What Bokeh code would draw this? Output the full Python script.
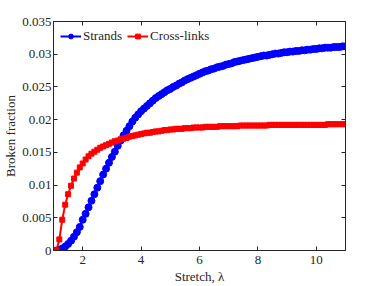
from bokeh.plotting import figure
from bokeh.models import (Range1d, FixedTicker, LinearAxis, Legend, LegendItem,
                          CustomLabelingPolicy)
from bokeh.embed import file_html
from bokeh.resources import INLINE

# ---- data ----
stretch = [round(1.0 + 0.1 * i, 1) for i in range(101)]

strands = [
    0.0, 0.0, 0.0001, 0.0003, 0.0006, 0.0010, 0.0015, 0.0021, 0.0028, 0.0036,
    0.0047, 0.0056, 0.0066, 0.0076, 0.0086, 0.0096, 0.0106, 0.0116, 0.0125, 0.0134,
    0.0143, 0.0151, 0.0160, 0.0168, 0.0176, 0.0183, 0.0190, 0.0197, 0.0203, 0.0208,
    0.0213, 0.0217, 0.0221, 0.0225, 0.0229, 0.0233, 0.0236, 0.0239, 0.0242, 0.0245,
    0.0247, 0.0250, 0.0252, 0.0255, 0.0257, 0.0260, 0.0262, 0.0264, 0.0266, 0.0268,
    0.0270, 0.0272, 0.0274, 0.0275, 0.0277, 0.0278, 0.0280, 0.0281, 0.0282, 0.0284,
    0.0285, 0.0286, 0.0288, 0.0289, 0.0290, 0.0291, 0.0292, 0.0293, 0.0294, 0.0295,
    0.0296, 0.0297, 0.0298, 0.0298, 0.0299, 0.0300, 0.0301, 0.0301, 0.0302, 0.0303,
    0.0303, 0.0304, 0.0304, 0.0305, 0.0305, 0.0306, 0.0306, 0.0307, 0.0307, 0.0308,
    0.0308, 0.0309, 0.0309, 0.0310, 0.0310, 0.0310, 0.0311, 0.0311, 0.0311, 0.0312,
    0.0312,
]

cross_links = [
    0.0, 0.0, 0.0017, 0.0047, 0.0070, 0.0086, 0.0099, 0.0110, 0.0119, 0.0127,
    0.0133, 0.0139, 0.0144, 0.0148, 0.0151, 0.0154, 0.0157, 0.0159, 0.0161, 0.0163,
    0.0165, 0.0167, 0.0168, 0.0170, 0.0171, 0.0172, 0.0174, 0.0175, 0.0176, 0.0177,
    0.0178, 0.0179, 0.0180, 0.0180, 0.0181, 0.0182, 0.0182, 0.0183, 0.0184, 0.0184,
    0.0185, 0.0185, 0.0186, 0.0186, 0.0186, 0.0187, 0.0187, 0.0187, 0.0188, 0.0188,
    0.0188, 0.0188, 0.0189, 0.0189, 0.0189, 0.0189, 0.0189, 0.0190, 0.0190, 0.0190,
    0.0190, 0.0190, 0.0190, 0.0190, 0.0191, 0.0191, 0.0191, 0.0191, 0.0191, 0.0191,
    0.0191, 0.0191, 0.0191, 0.0191, 0.0192, 0.0192, 0.0192, 0.0192, 0.0192, 0.0192,
    0.0192, 0.0192, 0.0192, 0.0192, 0.0192, 0.0192, 0.0192, 0.0192, 0.0192, 0.0192,
    0.0192, 0.0192, 0.0192, 0.0192, 0.0193, 0.0193, 0.0193, 0.0193, 0.0193, 0.0193,
    0.0193,
]

x_ticks = [2, 4, 6, 8, 10]
y_ticks = [0, 0.005, 0.01, 0.015, 0.02, 0.025, 0.03, 0.035]
y_tick_labels = ["0", "0.005", "0.01", "0.015", "0.02", "0.025", "0.03", "0.035"]

FONT = "Liberation Serif"
FS = "13px"
INK = "#262626"

p = figure(width=378, height=286, output_backend="svg", toolbar_location=None,
           x_range=Range1d(1, 11), y_range=Range1d(0, 0.035),
           min_border_left=50, min_border_right=33, min_border_top=21,
           min_border_bottom=36)
p.background_fill_color = "white"
p.border_fill_color = "white"
p.outline_line_color = INK
p.outline_line_width = 1
p.xgrid.visible = False
p.ygrid.visible = False

no_labels = CustomLabelingPolicy(code="""
    const all = [...indices]
    for (const i of all) indices.unset(i)
    return indices
""")

def style_axis(ax, labels=True):
    ax.axis_line_color = INK
    ax.axis_line_width = 1
    ax.major_tick_line_color = INK
    ax.major_tick_in = 4
    ax.major_tick_out = 0
    ax.minor_tick_line_color = None
    ax.major_label_text_font = FONT
    ax.major_label_text_font_size = FS
    ax.major_label_text_color = INK
    ax.axis_label_text_font = FONT
    ax.axis_label_text_font_style = "normal"
    ax.axis_label_text_font_size = FS
    ax.axis_label_text_color = INK
    ax.axis_label_standoff = 1
    ax.major_label_standoff = 2
    if not labels:
        ax.major_label_policy = no_labels
        ax.major_label_standoff = 0

xa = p.xaxis[0]
ya = p.yaxis[0]
xa.ticker = FixedTicker(ticks=x_ticks)
ya.ticker = FixedTicker(ticks=y_ticks)
ya.major_label_overrides = {t: s for t, s in zip(y_ticks, y_tick_labels)}
xa.axis_label = "Stretch, λ"
ya.axis_label = "Broken fraction"
style_axis(xa)
style_axis(ya)
xa.major_label_standoff = 5
xa.axis_label_standoff = 2

top = LinearAxis(ticker=FixedTicker(ticks=x_ticks))
right = LinearAxis(ticker=FixedTicker(ticks=y_ticks))
style_axis(top, labels=False)
style_axis(right, labels=False)
p.add_layout(top, "above")
p.add_layout(right, "right")

BLUE = "#0000ff"
RED = "#ff0000"

bl = p.line(stretch, strands, line_color=BLUE, line_width=2)
bs = p.scatter(stretch, strands, marker="circle", size=7,
               fill_color=BLUE, line_color=BLUE)
rl = p.line(stretch, cross_links, line_color=RED, line_width=2)
rs = p.scatter(stretch, cross_links, marker="square", size=5,
               fill_color=RED, line_color=RED)

legend = Legend(items=[LegendItem(label="Strands", renderers=[bl, bs]),
                       LegendItem(label="Cross-links", renderers=[rl, rs])],
                location="top_left", orientation="horizontal")
legend.label_text_font = FONT
legend.label_text_font_size = FS
legend.label_text_color = INK
legend.border_line_alpha = 0
legend.background_fill_alpha = 0
legend.margin = 3
legend.padding = 4
legend.spacing = 5
legend.glyph_width = 21
legend.glyph_height = 12
legend.label_height = 12
legend.label_standoff = 2
p.add_layout(legend, "center")

open("out.html", "w").write(file_html(p, INLINE))
